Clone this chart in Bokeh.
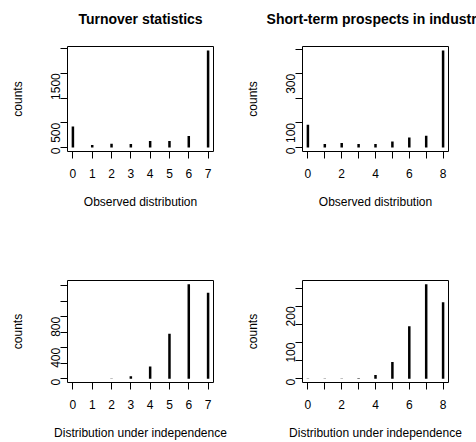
import math
from bokeh.plotting import figure
from bokeh.layouts import gridplot
from bokeh.models import FixedTicker, Range1d, Title
from bokeh.embed import file_html
from bokeh.resources import INLINE

# ---- data ----
turnover_x = [0, 1, 2, 3, 4, 5, 6, 7]
turnover_observed = [425, 55, 80, 75, 135, 135, 235, 1960]
turnover_independent = [1, 1, 3, 33, 158, 583, 1221, 1112]

prospects_x = [0, 1, 2, 3, 4, 5, 6, 7, 8]
prospects_observed = [93, 15, 19, 15, 15, 25, 41, 48, 395]
prospects_independent = [0.5, 0.5, 0.5, 1, 10, 46, 145, 261, 211]

titles = ["Turnover statistics", "Short-term prospects in industry"]
x_label_observed = "Observed distribution"
x_label_independent = "Distribution under independence"
y_label = "counts"

# tick positions and their (R-thinned) labels
yticks_turnover_obs = [0, 500, 1000, 1500, 2000]
ylabels_turnover_obs = ["0", "500", "", "1500", ""]
yticks_prospects_obs = [0, 100, 200, 300, 400]
ylabels_prospects_obs = ["0", "100", "", "300", ""]
yticks_turnover_ind = [0, 200, 400, 600, 800, 1000, 1200]
ylabels_turnover_ind = ["0", "", "400", "", "800", "", ""]
yticks_prospects_ind = [0, 50, 100, 150, 200, 250]
ylabels_prospects_ind = ["0", "", "100", "", "200", ""]

xlabels_turnover = ["0", "1", "2", "3", "4", "5", "6", "7"]
xlabels_prospects = ["0", "", "2", "", "4", "", "6", "", "8"]

FONT = "Liberation Sans"


def panel(xs, ys, title, xlabel, yticks, ylabels, xlabels,
          width, height, left, right, top, bottom):
    xspan = max(xs) - min(xs)
    ymax = max(ys)
    p = figure(width=width, height=height, output_backend="svg",
               toolbar_location=None, tools="",
               x_range=Range1d(min(xs) - 0.04 * xspan, max(xs) + 0.04 * xspan),
               y_range=Range1d(-0.04 * ymax, 1.04 * ymax),
               min_border=0)
    p.min_border_left = left
    p.min_border_right = right
    p.min_border_top = top
    p.min_border_bottom = bottom
    p.background_fill_color = "white"
    p.border_fill_color = "white"
    p.outline_line_color = "black"
    p.outline_line_width = 1
    p.xgrid.visible = False
    p.ygrid.visible = False

    if title:
        p.title.text = title
        p.title.text_font = FONT
        p.title.text_font_style = "bold"
        p.title.text_font_size = "14px"
        p.title.text_color = "black"
        p.title.align = "center"
        p.title.standoff = 0
        # empty spacer between the title and the plot box
        p.add_layout(Title(text=" ", text_font_size="1px", standoff=17), "above")

    p.segment(x0=xs, y0=[0] * len(xs), x1=xs, y1=ys,
              line_width=2.5, line_color="black", line_cap="butt")

    for ax in (p.xaxis[0], p.yaxis[0]):
        ax.axis_line_color = None
        ax.major_tick_out = 7
        ax.major_tick_in = 0
        ax.major_tick_line_color = "black"
        ax.minor_tick_line_color = None
        ax.major_label_text_font = FONT
        ax.major_label_text_font_size = "12px"
        ax.major_label_text_color = "black"
        ax.axis_label_text_font = FONT
        ax.axis_label_text_font_size = "12px"
        ax.axis_label_text_font_style = "normal"
        ax.axis_label_text_color = "black"

    p.xaxis.ticker = FixedTicker(ticks=xs)
    p.xaxis.major_label_overrides = {x: l for x, l in zip(xs, xlabels)}
    p.xaxis.major_label_standoff = 10
    p.xaxis.axis_label = xlabel
    p.xaxis.axis_label_standoff = 14

    p.yaxis.ticker = FixedTicker(ticks=yticks)
    p.yaxis.major_label_overrides = {t: l for t, l in zip(yticks, ylabels)}
    p.yaxis.major_label_orientation = math.pi / 2
    p.yaxis.major_label_standoff = 5
    p.yaxis.axis_label = y_label
    p.yaxis.axis_label_standoff = 19
    return p


p1 = panel(turnover_x, turnover_observed, titles[0], x_label_observed,
           yticks_turnover_obs, ylabels_turnover_obs, xlabels_turnover,
           238, 215, 67, 25, 46, 64)
p2 = panel(prospects_x, prospects_observed, titles[1], x_label_observed,
           yticks_prospects_obs, ylabels_prospects_obs, xlabels_prospects,
           238, 215, 64, 28, 46, 64)
p3 = panel(turnover_x, turnover_independent, None, x_label_independent,
           yticks_turnover_ind, ylabels_turnover_ind, xlabels_turnover,
           238, 227, 67, 25, 65, 57)
p4 = panel(prospects_x, prospects_independent, None, x_label_independent,
           yticks_prospects_ind, ylabels_prospects_ind, xlabels_prospects,
           238, 227, 64, 28, 65, 57)

grid = gridplot([[p1, p2], [p3, p4]], toolbar_location=None)

open("out.html", "w").write(file_html(grid, INLINE))
